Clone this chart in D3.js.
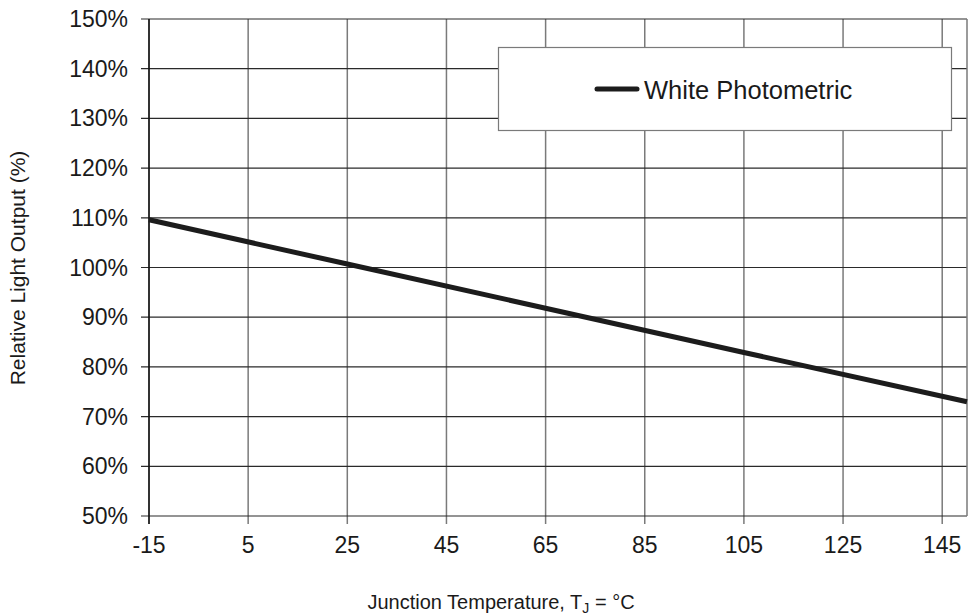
<!DOCTYPE html>
<html>
<head>
<meta charset="utf-8">
<script src="https://cdn.jsdelivr.net/npm/d3@7"></script>
<style>
  body { margin: 0; background: #fff; }
  svg { display: block; font-family: "Liberation Sans", Arial, sans-serif; }
</style>
</head>
<body>
<div id="chart"></div>
<script>
// readings
const temps = [-15, 25, 65, 105, 150];
const lightOutput = [109.6, 100.7, 91.8, 82.9, 73.0];
const xTicks = [-15, 5, 25, 45, 65, 85, 105, 125, 145];
const yTicks = [50, 60, 70, 80, 90, 100, 110, 120, 130, 140, 150];
const seriesName = "White Photometric";

const width = 969, height = 616;
const margin = { top: 19, right: 2, bottom: 100, left: 149 };

const svg = d3.select("#chart").append("svg")
  .attr("width", width)
  .attr("height", height);

const x = d3.scaleLinear().domain([-15, 150]).range([margin.left, width - margin.right]);
const y = d3.scaleLinear().domain([50, 150]).range([height - margin.bottom, margin.top]);

// vertical grid
svg.append("g")
  .selectAll("line")
  .data(xTicks)
  .join("line")
  .attr("x1", d => x(d)).attr("x2", d => x(d))
  .attr("y1", y(150)).attr("y2", y(50) + 8)
  .attr("stroke", "#7a7a7a")
  .attr("stroke-width", 1.5);

// horizontal grid
svg.append("g")
  .selectAll("line")
  .data(yTicks)
  .join("line")
  .attr("x1", x(-15) - 8).attr("x2", x(150))
  .attr("y1", d => y(d)).attr("y2", d => y(d))
  .attr("stroke", "#2a2a2a")
  .attr("stroke-width", 1.2);

// right border
svg.append("line")
  .attr("x1", x(150)).attr("x2", x(150))
  .attr("y1", y(150)).attr("y2", y(50))
  .attr("stroke", "#7a7a7a")
  .attr("stroke-width", 1.5);

// left axis line
svg.append("line")
  .attr("x1", x(-15)).attr("x2", x(-15))
  .attr("y1", y(150)).attr("y2", y(50) + 8)
  .attr("stroke", "#111")
  .attr("stroke-width", 1.5);

// y labels
svg.append("g")
  .selectAll("text")
  .data(yTicks)
  .join("text")
  .attr("x", 128)
  .attr("y", d => y(d))
  .attr("dy", "0.35em")
  .attr("text-anchor", "end")
  .attr("font-size", 23)
  .attr("fill", "#1a1a1a")
  .text(d => d + "%");

// x labels
svg.append("g")
  .selectAll("text")
  .data(xTicks)
  .join("text")
  .attr("x", d => x(d))
  .attr("y", 553)
  .attr("text-anchor", "middle")
  .attr("font-size", 23)
  .attr("fill", "#1a1a1a")
  .text(d => d);

// series
const pts = temps.map((t, i) => [t, lightOutput[i]]);
svg.append("path")
  .datum(pts)
  .attr("fill", "none")
  .attr("stroke", "#1c1c1c")
  .attr("stroke-width", 5)
  .attr("d", d3.line().x(d => x(d[0])).y(d => y(d[1])));

// legend
const legend = svg.append("g");
legend.append("rect")
  .attr("x", 498.5).attr("y", 47.5)
  .attr("width", 453).attr("height", 83)
  .attr("fill", "#fff")
  .attr("stroke", "#7a7a7a")
  .attr("stroke-width", 1.2);
legend.append("line")
  .attr("x1", 597).attr("x2", 637)
  .attr("y1", 89).attr("y2", 89)
  .attr("stroke", "#1c1c1c")
  .attr("stroke-width", 5)
  .attr("stroke-linecap", "round");
legend.append("text")
  .attr("x", 644).attr("y", 90)
  .attr("dy", "0.35em")
  .attr("font-size", 25.5)
  .attr("fill", "#1a1a1a")
  .text(seriesName);

// axis titles
svg.append("text")
  .attr("transform", "translate(25,268) rotate(-90)")
  .attr("text-anchor", "middle")
  .attr("font-size", 21)
  .attr("fill", "#1a1a1a")
  .text("Relative Light Output (%)");

const xt = svg.append("text")
  .attr("x", 501).attr("y", 609)
  .attr("text-anchor", "middle")
  .attr("font-size", 20)
  .attr("fill", "#1a1a1a");
xt.append("tspan").text("Junction Temperature, T");
xt.append("tspan").attr("font-size", 14).attr("dy", 4).text("J");
xt.append("tspan").attr("dy", -4).text(" = °C");
</script>
</body>
</html>
